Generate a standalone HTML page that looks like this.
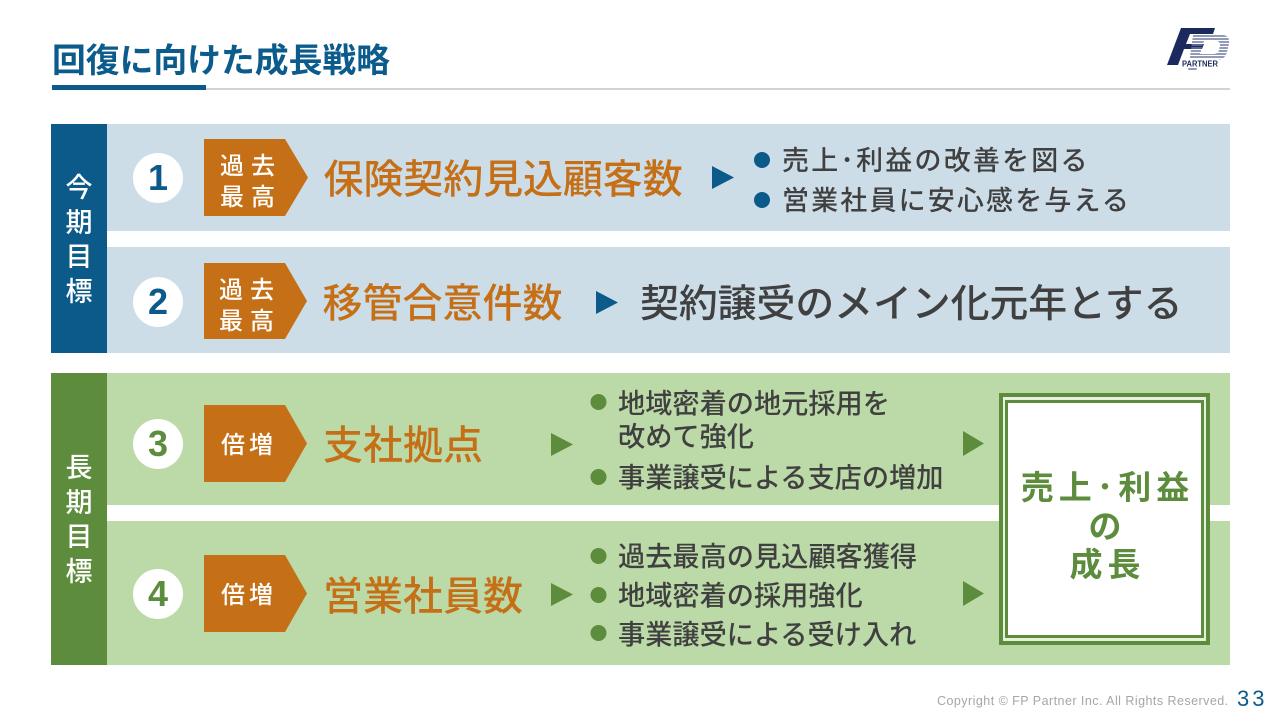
<!DOCTYPE html>
<html lang="ja"><head><meta charset="utf-8"><style>
html,body{margin:0;padding:0;background:#fff}
#p{position:relative;width:1280px;height:720px;overflow:hidden;background:#fff;font-family:"Liberation Sans","Noto Sans CJK JP",sans-serif}
#p div{position:absolute}
.t{white-space:nowrap;line-height:1;font-family:"Noto Sans CJK JP",sans-serif;font-weight:500}
.o{color:#c56f17;font-size:40px}
.d{color:#404040}
.c{width:50px;height:50px;border-radius:50%;background:#fff;font:bold 36px/50px "Liberation Sans",sans-serif;text-align:center}
.w{color:#fff;text-align:center}
</style></head><body><div id="p">
<div class="t" style="left:52px;top:41px;font-size:33.8px;color:#0b5c8c;font-weight:700">回復に向けた成長戦略</div>
<div style="left:52px;top:88px;width:1178px;height:2px;background:#d2d2d2"></div>
<div style="left:52px;top:85px;width:154px;height:5px;background:#0b5a8a"></div>
<svg style="position:absolute;left:1160px;top:24px" width="76" height="50" viewBox="0 0 76 50">
<defs><clipPath id="pc"><path clip-rule="evenodd" d="M33,11H62Q70,11 69,20L67,28Q65,36 56,36H40L36,47H28ZM44,17L40,30H54Q58,30 59,26L60,21Q60,17 56,17Z"/></clipPath></defs>
<polygon points="7,41 21,4 55,4 53,10 30,10 26,20 44,20 42,25 24,25 18,41" fill="#1b2a5e"/>
<g clip-path="url(#pc)" stroke="#6f7a9e" stroke-width="1.5" fill="none"><path d="M25,12H72M25,15H72M25,18H72M25,21H72M25,24H72M25,27H72M25,30H72M25,33H72M25,36H72M25,39H72M25,42H72M25,45H72"/></g>
<rect x="21" y="35" width="38" height="8" fill="#fff"/>
<text x="22" y="42.500" font-family="Liberation Sans" font-size="8" font-weight="bold" fill="#1b2a5e" textLength="36" lengthAdjust="spacingAndGlyphs">PARTNER</text>
</svg>

<div style="left:107px;top:124px;width:1123px;height:107px;background:#cddde8"></div>
<div style="left:107px;top:247px;width:1123px;height:106px;background:#cddde8"></div>
<div style="left:51px;top:124px;width:56px;height:229px;background:#0b5a8a"></div>
<div class="t w" style="left:51px;top:169px;width:56px;font-size:27px;line-height:34.5px">今<br>期<br>目<br>標</div>

<div style="left:107px;top:373px;width:1123px;height:132px;background:#bcd9a8"></div>
<div style="left:107px;top:521px;width:1123px;height:144px;background:#bcd9a8"></div>
<div style="left:51px;top:373px;width:56px;height:292px;background:#5c8c3c"></div>
<div class="t w" style="left:51px;top:449px;width:56px;font-size:27px;line-height:34.5px">長<br>期<br>目<br>標</div>

<div class="c" style="left:133px;top:153px;color:#0b5a8a">1</div>
<div class="c" style="left:133px;top:277px;color:#0b5a8a">2</div>
<div class="c" style="left:133px;top:419px;color:#5c8c3c">3</div>
<div class="c" style="left:133px;top:569px;color:#5c8c3c">4</div>

<svg style="position:absolute;left:0;top:0" width="1280" height="720">
<g fill="#c56f17">
<polygon points="204,139 285,139 308,177.500 285,216 204,216"/>
<polygon points="204,263 285,263 307,301 285,339 204,339"/>
<polygon points="204,405 285,405 307,443.500 285,482 204,482"/>
<polygon points="204,555 285,555 307,593.500 285,632 204,632"/>
</g>
<g fill="#0b5a8a">
<polygon points="712,166 734,177.500 712,189"/>
<polygon points="596,291 618,302.500 596,314"/>
<circle cx="762" cy="160" r="8"/><circle cx="762" cy="200" r="8"/>
</g>
<g fill="#5c8c3c">
<polygon points="551,433 573,444.500 551,456"/>
<polygon points="551,583 573,594.500 551,606"/>
<polygon points="963,431 984,443.500 963,456"/>
<polygon points="963,581 984,593.500 963,606"/>
<circle cx="598.500" cy="402" r="8"/><circle cx="598.500" cy="477" r="8"/>
<circle cx="598.500" cy="556" r="8"/><circle cx="598.500" cy="595" r="8"/><circle cx="598.500" cy="633" r="8"/>
</g>
</svg>

<div class="t" style="left:220px;top:148px;font-size:24px;line-height:31px;letter-spacing:7px;color:#fff">過去<br>最高</div>
<div class="t" style="left:219px;top:272px;font-size:24px;line-height:31px;letter-spacing:7px;color:#fff">過去<br>最高</div>
<div class="t" style="left:221px;top:431px;font-size:24px;letter-spacing:4px;color:#fff">倍増</div>
<div class="t" style="left:221px;top:581px;font-size:24px;letter-spacing:4px;color:#fff">倍増</div>

<div class="t o" style="left:323.500px;top:156px;letter-spacing:-.1px">保険契約見込顧客数</div>
<div class="t o" style="left:322.500px;top:280px">移管合意件数</div>
<div class="t o" style="left:323px;top:422px">支社拠点</div>
<div class="t o" style="left:323px;top:573px">営業社員数</div>

<div class="t d" style="left:782px;top:145px;font-size:27px;letter-spacing:2.2px">売上･利益の改善を図る</div>
<div class="t d" style="left:782px;top:185px;font-size:27px;letter-spacing:2.15px">営業社員に安心感を与える</div>
<div class="t d" style="left:640px;top:282px;font-size:38.850px">契約譲受のメイン化元年とする</div>

<div class="t d" style="left:618px;top:388px;font-size:27.200px">地域密着の地元採用を</div>
<div class="t d" style="left:618px;top:421px;font-size:27.200px">改めて強化</div>
<div class="t d" style="left:618px;top:462px;font-size:27.200px">事業譲受による支店の増加</div>
<div class="t d" style="left:618px;top:541px;font-size:27.200px">過去最高の見込顧客獲得</div>
<div class="t d" style="left:618px;top:580px;font-size:27.200px">地域密着の採用強化</div>
<div class="t d" style="left:618px;top:619px;font-size:27.200px">事業譲受による受け入れ</div>

<div style="left:999px;top:393px;width:211px;height:252px;background:#5c8c3c"></div>
<div style="left:1003px;top:397px;width:203px;height:244px;background:#e6f0dd"></div>
<div style="left:1005px;top:400px;width:199px;height:238px;background:#5c8c3c"></div>
<div style="left:1008px;top:403px;width:193px;height:232px;background:#fff"></div>
<div class="t" style="left:1011px;top:466px;width:193px;text-align:center;font-size:33px;line-height:38.500px;color:#5c8c3c;letter-spacing:5px;font-weight:700">売上･利益<br>の<br>成長</div>

<div style="left:937px;top:694px;font:12.500px/14px 'Liberation Sans',sans-serif;color:#a6a6a6;letter-spacing:.46px;white-space:nowrap">Copyright © FP Partner Inc. All Rights Reserved.</div>
<div style="left:1237px;top:687px;font:22px/24px 'Liberation Sans',sans-serif;color:#0b5a8a;letter-spacing:3px">33</div>
</div></body></html>
